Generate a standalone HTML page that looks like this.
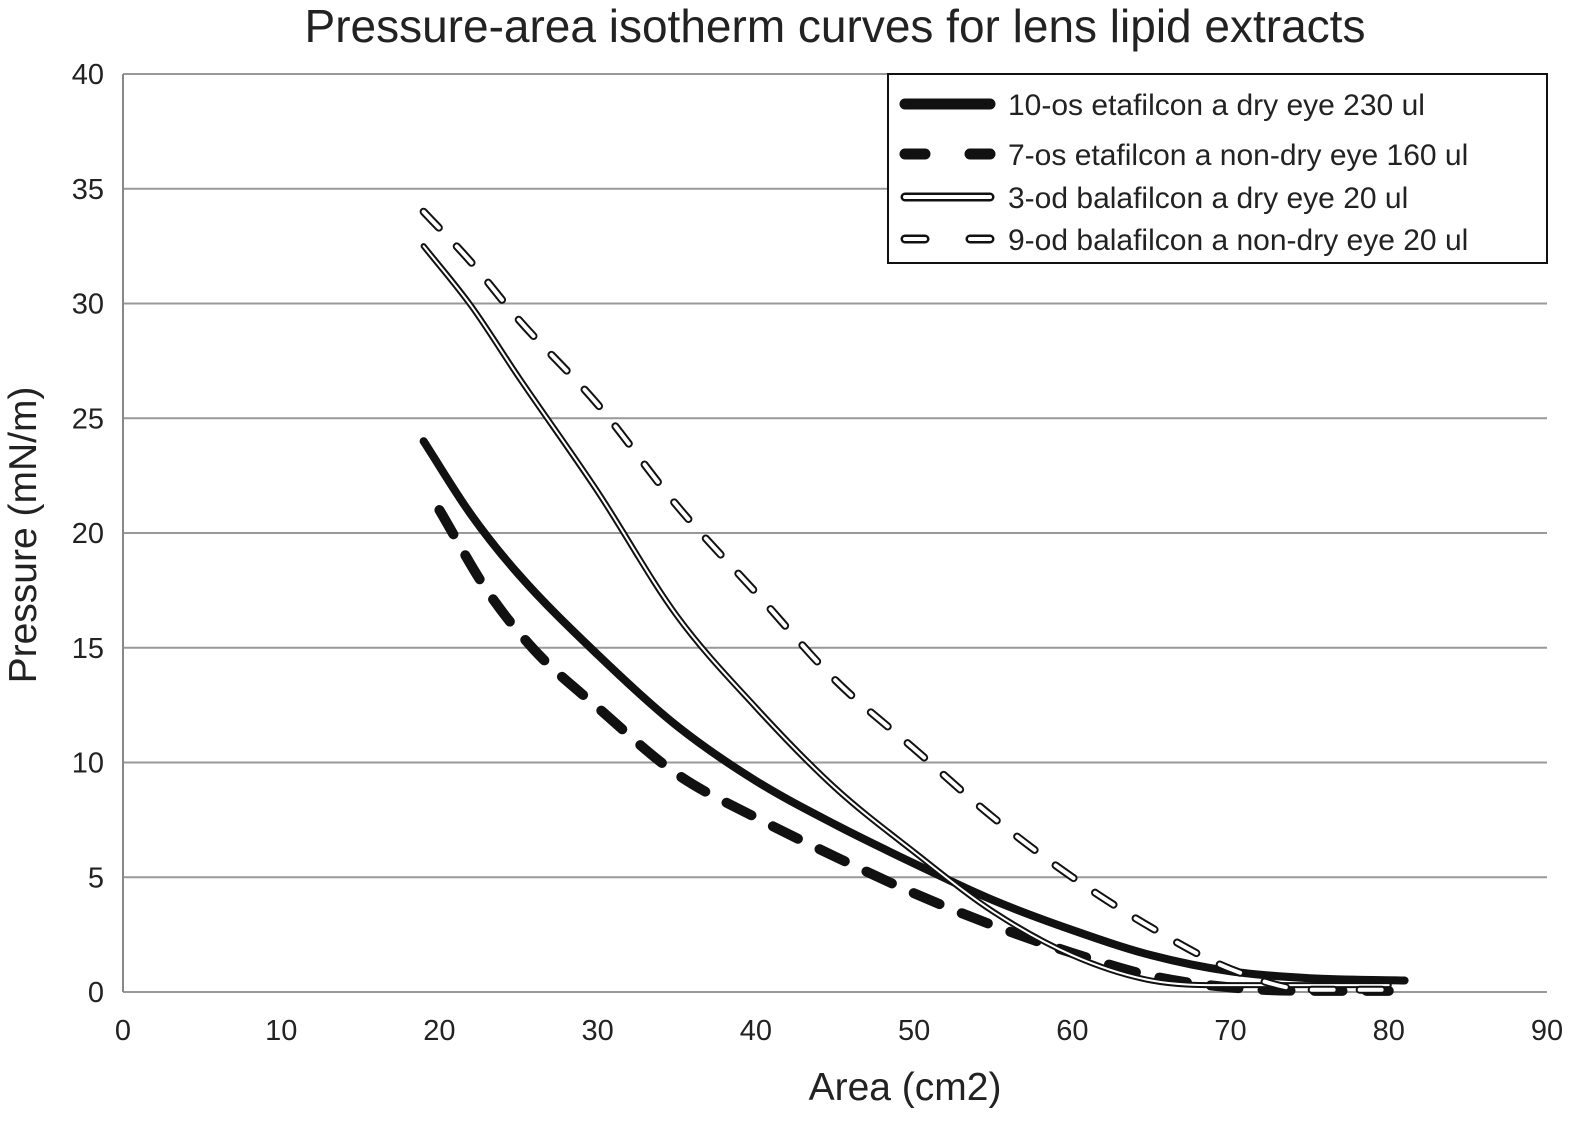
<!DOCTYPE html>
<html><head><meta charset="utf-8"><style>
html,body{margin:0;padding:0;background:#fff;}
svg{display:block;font-family:"Liberation Sans",Arial,sans-serif;}
</style></head><body>
<svg id="chart" width="1587" height="1133" viewBox="0 0 1587 1133">
<text x="835" y="42" text-anchor="middle" font-size="46" fill="#222">Pressure-area isotherm curves for lens lipid extracts</text>
<g id="grid"></g><g id="axes"></g><g id="series"></g>
<text x="905" y="1100" text-anchor="middle" font-size="39" fill="#222">Area (cm2)</text>
<text transform="translate(36,535) rotate(-90)" text-anchor="middle" font-size="39" fill="#222">Pressure (mN/m)</text>
<g id="legend"></g>
</svg>
<script>
const xTicks=[0,10,20,30,40,50,60,70,80,90];
const yTicks=[0,5,10,15,20,25,30,35,40];
const seriesNames=["10-os etafilcon a dry eye 230 ul","7-os etafilcon a non-dry eye 160 ul","3-od balafilcon a dry eye 20 ul","9-od balafilcon a non-dry eye 20 ul"];
const areaA=[19,22,25,30,35,40,45,50,55,60,65,70,75,81];
const presA=[24,20.8,18.2,14.7,11.6,9.2,7.3,5.6,4.0,2.7,1.6,0.9,0.6,0.5];
const areaB=[20,23,26,30,35,40,45,50,55,60,65,70,75,80];
const presB=[21,17.5,14.9,12.4,9.5,7.6,5.9,4.3,2.9,1.7,0.7,0.2,0.05,0.05];
const areaC=[19,22,25,30,35,40,45,50,55,60,65,70,75,80];
const presC=[32.5,29.9,26.8,21.8,16.4,12.4,8.9,6.1,3.5,1.6,0.5,0.3,0.3,0.3];
const areaD=[19,22,25,30,35,40,45,50,55,60,65,70,75,80];
const presD=[34,31.8,29.3,25.6,21.2,17.4,13.6,10.6,7.6,5.0,2.8,1.0,0.1,0.1];
const NS="http://www.w3.org/2000/svg";
const X=v=>123+v*(1547-123)/90;
const Y=v=>992-v*(992-74)/40;
function mk(tag,attrs,parent){const e=document.createElementNS(NS,tag);for(const k in attrs)e.setAttribute(k,attrs[k]);parent.appendChild(e);return e;}
const grid=document.getElementById('grid'),axes=document.getElementById('axes');
yTicks.forEach(t=>{
 const l=mk('line',{x1:123,x2:1547,y1:Y(t),y2:Y(t),stroke:'#999','stroke-width':2},grid);
 
 
 const tx=mk('text',{x:104,y:Y(t)+10,'text-anchor':'end','font-size':29,fill:'#222'},axes);
 tx.textContent=t;
 
 
});
xTicks.forEach(t=>{
 const tx=mk('text',{x:X(t),y:1040,'text-anchor':'middle','font-size':29,fill:'#222'},axes);
 tx.textContent=t;
 
 
});
const ya=mk('line',{x1:123,x2:123,y1:74,y2:992,stroke:'#888','stroke-width':2},axes);


function pathD(xs,ys){
 const n=xs.length,d=[],m=[];
 for(let i=0;i<n-1;i++)d.push((ys[i+1]-ys[i])/(xs[i+1]-xs[i]));
 m[0]=d[0];m[n-1]=d[n-2];
 for(let i=1;i<n-1;i++){m[i]=(d[i-1]*d[i]<=0)?0:(d[i-1]+d[i])/2;}
 let s='M'+X(xs[0])+','+Y(ys[0]);
 for(let i=0;i<n-1;i++){const h=xs[i+1]-xs[i];
  s+=' C'+X(xs[i]+h/3)+','+Y(ys[i]+m[i]*h/3)+' '+X(xs[i+1]-h/3)+','+Y(ys[i+1]-m[i+1]*h/3)+' '+X(xs[i+1])+','+Y(ys[i+1]);}
 return s;}
const styles=[{w:8,dash:null,dbl:false},{w:10,dash:'28 24',dbl:false},{w:6,dash:null,dbl:true},{w:8,dash:'22 26',dbl:true}];
const data=[[areaA,presA],[areaB,presB],[areaC,presC],[areaD,presD]];
const sg=document.getElementById('series');
data.forEach((d,i)=>{
 const s=styles[i];const g=mk('g',{},sg);
 
 
 const a={d:pathD(d[0],d[1]),fill:'none',stroke:'#111','stroke-width':s.w,'stroke-linecap':'round'};
 if(s.dash)a['stroke-dasharray']=s.dash;
 mk('path',a,g);
 if(s.dbl){const b=Object.assign({},a,{stroke:'#fff','stroke-width':s.w-4});mk('path',b,g);}
});
const lg=document.getElementById('legend');
const box=mk('rect',{x:888,y:74,width:659,height:189,fill:'#fff',stroke:'#111','stroke-width':2},lg);


const ly=[104,154,197,239];
seriesNames.forEach((n,i)=>{
 const s=styles[i];const g=mk('g',{},lg);
 
 
 const a={x1:905,x2:990,y1:ly[i],y2:ly[i],stroke:'#111','stroke-width':s.dbl?9:11,'stroke-linecap':'round'};
 if(s.dash)a['stroke-dasharray']='20 45';
 mk('line',a,g);
 if(s.dbl){const b=Object.assign({},a,{stroke:'#fff','stroke-width':4});mk('line',b,g);}
 const t=mk('text',{x:1008,y:ly[i]+11,'font-size':30,fill:'#222'},g);t.textContent=n;
});
</script>
</body></html>
